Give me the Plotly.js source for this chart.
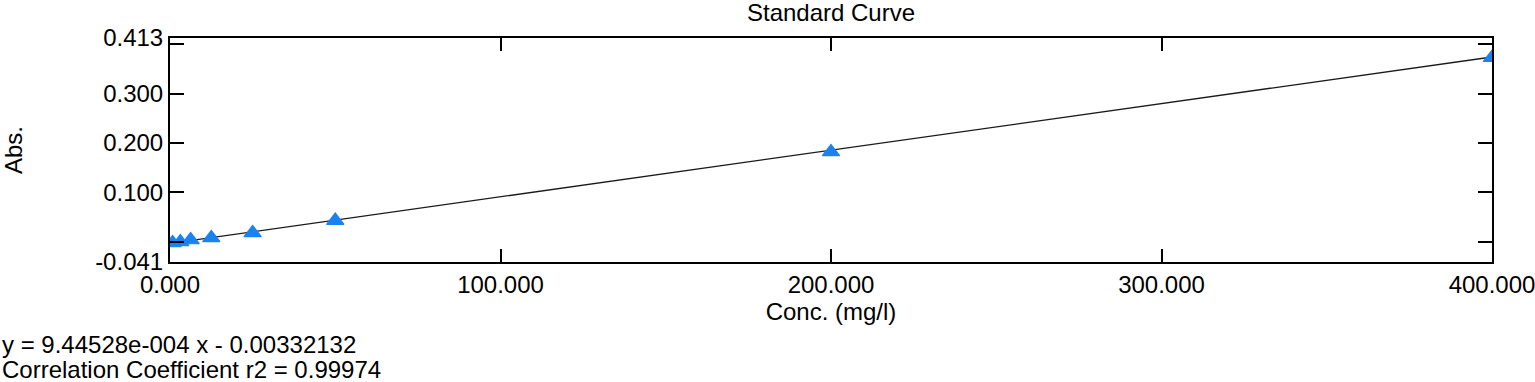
<!DOCTYPE html>
<html>
<head>
<meta charset="utf-8">
<script src="https://cdn.plot.ly/plotly-3.0.1.min.js"></script>
<style>
  html, body { margin: 0; padding: 0; background: #fff; }
  #chart { width: 1535px; height: 382px; }
</style>
</head>
<body>
<div id="chart"></div>
<script>
// Standards: concentration (mg/l) and absorbance
const concentrations = [0.78125, 3.125, 6.25, 12.5, 25, 50, 200, 400];
const absorbances = [-0.0025, -0.0005, 0.0036, 0.0078, 0.018, 0.043, 0.182, 0.373];

// Fitted line from the chart's equation
const slope = 9.44528e-4;
const intercept = -0.00332132;
const fitX = [0, 400];

// Axis ticks
const xTickVals = [0, 100, 200, 300, 400];
const xTickText = ['0.000', '100.000', '200.000', '300.000', '400.000'];
const yTickVals = [-0.041, 0, 0.1, 0.2, 0.3, 0.4, 0.413];
const yTickText = ['-0.041', '', '0.100', '0.200', '0.300', '', '0.413'];

const equationText = 'y = 9.44528e-004 x - 0.00332132';
const r2Text = 'Correlation Coefficient r2 = 0.99974';

const fitY = fitX.map(x => slope * x + intercept);

const FONT = 'Liberation Sans, Arial, sans-serif';
const PLOT_W = 1322, PLOT_H = 224, L = 170, T = 38;
const px2paperX = p => (p - L) / PLOT_W;
const px2paperY = p => (T + PLOT_H - p) / PLOT_H;

const traces = [
  {
    x: fitX, y: fitY, type: 'scatter', mode: 'lines',
    line: { color: '#1a1a1a', width: 1.3 },
    hoverinfo: 'skip', showlegend: false
  },
  {
    x: concentrations, y: absorbances, type: 'scatter', mode: 'markers',
    marker: { symbol: 'triangle-up', size: 15, color: '#1a82f0',
              line: { color: '#1a82f0', width: 1.2 } },
    showlegend: false
  }
];

const axisCommon = {
  showline: true, linecolor: '#000', linewidth: 2, mirror: 'ticks',
  ticks: 'inside', tickcolor: '#000', tickwidth: 2, ticklen: 14,
  showgrid: false, zeroline: false, ticklabeloverflow: 'allow',
  tickfont: { family: FONT, size: 24, color: '#000' }
};

const layout = {
  width: 1535, height: 382,
  margin: { l: L, r: 1535 - L - PLOT_W, t: T, b: 382 - T - PLOT_H },
  paper_bgcolor: '#fff', plot_bgcolor: '#fff',
  font: { family: FONT, size: 24, color: '#000' },
  title: {
    text: 'Standard Curve',
    font: { family: FONT, size: 24, color: '#000' },
    x: 0.5, xref: 'paper', xanchor: 'center',
    y: 1 - 13 / 382, yref: 'container', yanchor: 'middle'
  },
  xaxis: Object.assign({}, axisCommon, {
    range: [0, 400], tickmode: 'array', tickvals: xTickVals, ticktext: xTickText,
    ticklen: 13,
    title: { text: 'Conc. (mg/l)', font: { family: FONT, size: 24, color: '#000' }, standoff: 0 }
  }),
  yaxis: Object.assign({}, axisCommon, {
    range: [-0.041, 0.413], tickmode: 'array', tickvals: yTickVals, ticktext: yTickText,
    title: { text: 'Abs.', font: { family: FONT, size: 24, color: '#000' }, standoff: 68 }
  }),
  annotations: [
    {
      text: equationText, xref: 'paper', yref: 'paper',
      x: px2paperX(0), y: px2paperY(344), xanchor: 'left', yanchor: 'middle',
      showarrow: false, font: { family: FONT, size: 24, color: '#000' }
    },
    {
      text: r2Text, xref: 'paper', yref: 'paper',
      x: px2paperX(0), y: px2paperY(369), xanchor: 'left', yanchor: 'middle',
      showarrow: false, font: { family: FONT, size: 24, color: '#000' }
    }
  ]
};

Plotly.newPlot('chart', traces, layout, { staticPlot: true, displayModeBar: false });
</script>
</body>
</html>
